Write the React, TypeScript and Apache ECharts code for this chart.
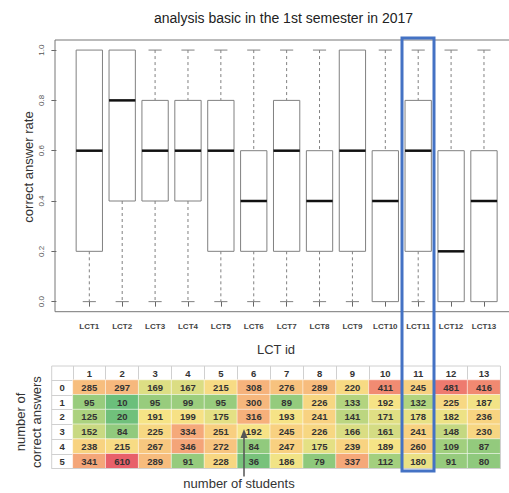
import React, { useEffect, useRef } from 'react';
import * as echarts from 'echarts';

// ---- Box plot data (correct answer rate per LCT) ----
const categories = ['LCT1', 'LCT2', 'LCT3', 'LCT4', 'LCT5', 'LCT6', 'LCT7', 'LCT8', 'LCT9', 'LCT10', 'LCT11', 'LCT12', 'LCT13'];
const boxMin = [0, 0, 0, 0, 0, 0, 0, 0, 0, 0, 0, 0, 0];
const boxQ1 = [0.2, 0.4, 0.4, 0.4, 0.2, 0.2, 0.2, 0.2, 0.2, 0.0, 0.2, 0.0, 0.0];
const boxMedian = [0.6, 0.8, 0.6, 0.6, 0.6, 0.4, 0.6, 0.4, 0.6, 0.4, 0.6, 0.2, 0.4];
const boxQ3 = [1.0, 1.0, 0.8, 0.8, 0.8, 0.6, 0.8, 0.6, 1.0, 0.6, 0.8, 0.6, 0.6];
const boxMax = [1, 1, 1, 1, 1, 1, 1, 1, 1, 1, 1, 1, 1];
const yTicks = [0, 0.2, 0.4, 0.6, 0.8, 1.0];

// ---- Table data (number of students by number of correct answers) ----
const tableCols = ['1', '2', '3', '4', '5', '6', '7', '8', '9', '10', '11', '12', '13'];
const tableRows = ['0', '1', '2', '3', '4', '5'];
const countsRow0 = [285, 297, 169, 167, 215, 308, 276, 289, 220, 411, 245, 481, 416];
const countsRow1 = [95, 10, 95, 99, 95, 300, 89, 226, 133, 192, 132, 225, 187];
const countsRow2 = [125, 20, 191, 199, 175, 316, 193, 241, 141, 171, 178, 182, 236];
const countsRow3 = [152, 84, 225, 334, 251, 192, 245, 226, 166, 161, 241, 148, 230];
const countsRow4 = [238, 215, 267, 346, 272, 84, 247, 175, 239, 189, 260, 109, 87];
const countsRow5 = [341, 610, 289, 91, 228, 36, 186, 79, 337, 112, 180, 91, 80];
const countRows = [countsRow0, countsRow1, countsRow2, countsRow3, countsRow4, countsRow5];

const heatColors = ['#6BBF7B', '#88C77C', '#AFD37F', '#F6E486', '#F8CF80', '#F6B27C', '#F39B76', '#F08370', '#EE786F', '#EC6E6C', '#E8606A'];

const FONT = '"Liberation Sans", Arial, sans-serif';

export default function App() {
  const ref = useRef<HTMLDivElement>(null);

  useEffect(() => {
    if (!ref.current) return;
    const chart = echarts.init(ref.current, undefined, { renderer: 'svg' });

    const boxData = categories.map((_, i) => [i + 1, boxMin[i], boxQ1[i], boxMedian[i], boxQ3[i], boxMax[i]]);
    const heatData: number[][] = [];
    countRows.forEach((row, r) => row.forEach((v, c) => heatData.push([c, r, v])));

    const gray = '#808080';

    const option: any = {
      animation: false,
      textStyle: { fontFamily: FONT },
      grid: [
        { left: 55, top: 40, width: 454, height: 271.7, show: false },
        { left: 72.85, top: 380, width: 427.6, height: 88.5 },
      ],
      xAxis: [
        {
          type: 'value', gridIndex: 0, min: -0.043, max: 13.761,
          splitLine: { show: false }, axisLine: { show: false },
          axisTick: { show: true, customValues: categories.map((_, i) => i + 1), length: 5, lineStyle: { color: '#666' } },
          axisLabel: {
            customValues: categories.map((_, i) => i + 1),
            formatter: (v: number) => categories[Math.round(v) - 1] || '',
            fontSize: 8, fontWeight: 'bold', color: '#444', margin: 11, fontFamily: FONT,
          },
        },
        {
          type: 'category', gridIndex: 1, data: tableCols, position: 'top',
          axisLine: { show: true, lineStyle: { color: '#d0d0d0' } },
          axisTick: { show: true, interval: 0, length: 14, lineStyle: { color: '#d0d0d0' } },
          axisLabel: { interval: 0, fontSize: 9.5, fontWeight: 'bold', color: '#333', margin: 2, fontFamily: FONT },
          splitLine: { show: false },
        },
      ],
      yAxis: [
        {
          type: 'value', gridIndex: 0, min: -0.04, max: 1.04,
          splitLine: { show: false }, axisLine: { show: false },
          axisTick: { show: true, customValues: yTicks, length: 5, lineStyle: { color: '#666' } },
          axisLabel: {
            customValues: yTicks, rotate: 90,
            formatter: (v: number) => v.toFixed(1),
            fontSize: 8, color: '#555', margin: 10, fontFamily: FONT,
          },
        },
        {
          type: 'category', gridIndex: 1, data: tableRows, inverse: true,
          axisLine: { show: true, lineStyle: { color: '#d0d0d0' } },
          axisTick: { show: true, interval: 0, length: 21.2, lineStyle: { color: '#d0d0d0' } },
          axisLabel: { interval: 0, fontSize: 9.5, fontWeight: 'bold', color: '#333', margin: 8, fontFamily: FONT },
          splitLine: { show: false },
        },
      ],
      visualMap: {
        type: 'continuous', show: false, min: 10, max: 610, dimension: 2, seriesIndex: 1,
        inRange: { color: heatColors },
      },
      series: [
        {
          type: 'custom', xAxisIndex: 0, yAxisIndex: 0, data: boxData,
          encode: { x: 0, y: [1, 2, 3, 4, 5] },
          renderItem: (params: any, api: any) => {
            const x = api.value(0);
            const cx = api.coord([x, api.value(1)])[0];
            const yMin = api.coord([x, api.value(1)])[1];
            const yQ1 = api.coord([x, api.value(2)])[1];
            const yMed = api.coord([x, api.value(3)])[1];
            const yQ3 = api.coord([x, api.value(4)])[1];
            const yMax = api.coord([x, api.value(5)])[1];
            const bw = api.size([0.8, 0])[0];
            const sw = api.size([0.4, 0])[0];
            const children: any[] = [];
            const dash = { stroke: gray, lineWidth: 1, lineDash: [3, 3] };
            const solid = { stroke: gray, lineWidth: 1 };
            if (yMin - yQ1 > 0.5) {
              children.push({ type: 'line', shape: { x1: cx, y1: yQ1, x2: cx, y2: yMin }, style: dash });
              children.push({ type: 'line', shape: { x1: cx - sw / 2, y1: yMin, x2: cx + sw / 2, y2: yMin }, style: solid });
            }
            if (yQ3 - yMax > 0.5) {
              children.push({ type: 'line', shape: { x1: cx, y1: yMax, x2: cx, y2: yQ3 }, style: dash });
              children.push({ type: 'line', shape: { x1: cx - sw / 2, y1: yMax, x2: cx + sw / 2, y2: yMax }, style: solid });
            }
            children.push({ type: 'rect', shape: { x: cx - bw / 2, y: yQ3, width: bw, height: yQ1 - yQ3 }, style: { fill: '#fff', stroke: gray, lineWidth: 1 } });
            children.push({ type: 'line', shape: { x1: cx - bw / 2, y1: yMed, x2: cx + bw / 2, y2: yMed }, style: { stroke: '#111', lineWidth: 2.5 } });
            return { type: 'group', children };
          },
        },
        {
          type: 'heatmap', xAxisIndex: 1, yAxisIndex: 1, data: heatData,
          itemStyle: { borderColor: 'rgba(255,255,255,0.55)', borderWidth: 1 },
          label: { show: true, fontSize: 9.5, fontWeight: 'bold', color: '#333', fontFamily: FONT, formatter: (p: any) => String(p.value[2]) },
          emphasis: { disabled: true },
        },
      ],
      graphic: [
        { type: 'rect', shape: { x: 55, y: 40, width: 470, height: 271.7 }, style: { fill: 'none', stroke: '#777', lineWidth: 1 }, z: 40 },
        { type: 'text', x: 283.5, y: 17.7, style: { text: 'analysis basic in the 1st semester in 2017', align: 'center', verticalAlign: 'middle', fontSize: 14, fontFamily: FONT, fill: '#222' } },
        { type: 'text', x: 28.3, y: 167, rotation: Math.PI / 2, style: { text: 'correct answer rate', align: 'center', verticalAlign: 'middle', fontSize: 13, fontFamily: FONT, fill: '#333' } },
        { type: 'text', x: 276, y: 349, style: { text: 'LCT id', align: 'center', verticalAlign: 'middle', fontSize: 13, fontFamily: FONT, fill: '#333' } },
        { type: 'text', x: 20, y: 422, rotation: Math.PI / 2, style: { text: 'number of', align: 'center', verticalAlign: 'middle', fontSize: 13, fontFamily: FONT, fill: '#333' } },
        { type: 'text', x: 36, y: 422, rotation: Math.PI / 2, style: { text: 'correct answers', align: 'center', verticalAlign: 'middle', fontSize: 13, fontFamily: FONT, fill: '#333' } },
        { type: 'text', x: 239, y: 483.3, style: { text: 'number of students', align: 'center', verticalAlign: 'middle', fontSize: 13, fontFamily: FONT, fill: '#333' } },
        { type: 'rect', shape: { x: 51.7, y: 366, width: 448.75, height: 102.5 }, style: { fill: 'none', stroke: '#d0d0d0', lineWidth: 1 }, z: 50 },
        { type: 'line', shape: { x1: 244, y1: 476.5, x2: 244, y2: 436 }, style: { stroke: '#555', lineWidth: 1.5 }, z: 60 },
        { type: 'polygon', shape: { points: [[244, 429], [240.5, 438], [247.5, 438]] }, style: { fill: '#555' }, z: 60 },
        { type: 'rect', shape: { x: 402, y: 38, width: 32, height: 433 }, style: { fill: 'none', stroke: '#4472C4', lineWidth: 3 }, z: 100 },
      ],
    };

    chart.setOption(option);
    return () => chart.dispose();
  }, []);

  return <div ref={ref} style={{ position: 'fixed', left: 0, top: 0, width: 509, height: 493, background: '#fff' }} />;
}
